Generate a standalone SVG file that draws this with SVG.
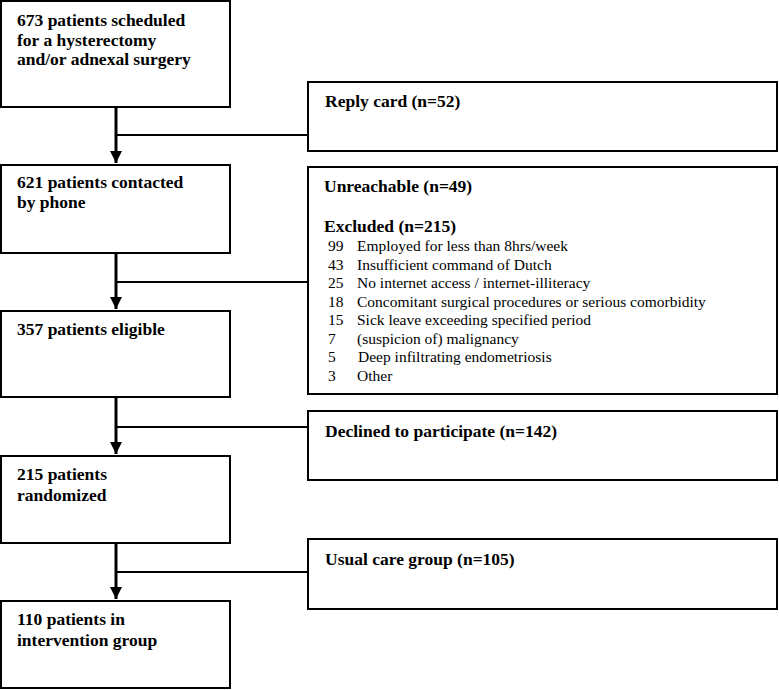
<svg xmlns="http://www.w3.org/2000/svg" width="779" height="690" viewBox="0 0 779 690">
<style>
.box{fill:#fff;stroke:#000;stroke-width:2}
.b{font-family:"Liberation Serif","Times New Roman",serif;font-weight:bold;font-size:17.5px;fill:#000}
.r{font-family:"Liberation Serif","Times New Roman",serif;font-size:15.5px;fill:#000}
.v{stroke:#000;stroke-width:3;fill:none}
.h{stroke:#000;stroke-width:2;fill:none}
</style>
<defs>
<marker id="ah" markerUnits="userSpaceOnUse" markerWidth="14" markerHeight="12" refX="12" refY="6" orient="auto">
<path d="M0,0 L12,6 L0,12 Z" fill="#000"/>
</marker>
</defs>
<rect width="779" height="690" fill="#fff"/>
<g id="connectors">
<line class="v" x1="116" y1="107" x2="116" y2="163" marker-end="url(#ah)"/>
<line class="h" x1="116" y1="135" x2="308" y2="135"/>
<line class="v" x1="116" y1="253" x2="116" y2="309" marker-end="url(#ah)"/>
<line class="h" x1="116" y1="282" x2="308" y2="282"/>
<line class="v" x1="116" y1="397" x2="116" y2="454" marker-end="url(#ah)"/>
<line class="h" x1="116" y1="427" x2="308" y2="427"/>
<line class="v" x1="116" y1="543" x2="116" y2="599" marker-end="url(#ah)"/>
<line class="h" x1="116" y1="572" x2="308" y2="572"/>
</g>
<g id="n673">
<rect class="box" x="1" y="1" width="229" height="106"/>
<text class="b" x="17" y="26">673 patients scheduled</text>
<text class="b" x="17" y="45.5">for a hysterectomy</text>
<text class="b" x="17" y="65">and/or adnexal surgery</text>
</g>
<g id="reply">
<rect class="box" x="308" y="82" width="469" height="69"/>
<text class="b" x="325" y="107">Reply card (n=52)</text>
</g>
<g id="n621">
<rect class="box" x="1" y="165" width="229" height="88"/>
<text class="b" x="17" y="188">621 patients contacted</text>
<text class="b" x="17" y="208">by phone</text>
</g>
<g id="excluded">
<rect class="box" x="308" y="167" width="469" height="227"/>
<text class="b" x="324" y="192">Unreachable (n=49)</text>
<text class="b" x="324" y="232">Excluded (n=215)</text>
<text class="r" x="328" y="251">99</text><text class="r" x="357" y="251">Employed for less than 8hrs/week</text>
<text class="r" x="328" y="269.5">43</text><text class="r" x="357" y="269.5">Insufficient command of Dutch</text>
<text class="r" x="328" y="288">25</text><text class="r" x="357" y="288">No internet access / internet-illiteracy</text>
<text class="r" x="328" y="306.5">18</text><text class="r" x="357" y="306.5">Concomitant surgical procedures or serious comorbidity</text>
<text class="r" x="328" y="325">15</text><text class="r" x="357" y="325">Sick leave exceeding specified period</text>
<text class="r" x="328" y="343.5">7</text><text class="r" x="357" y="343.5">(suspicion of) malignancy</text>
<text class="r" x="328" y="362">5</text><text class="r" x="358" y="362">Deep infiltrating endometriosis</text>
<text class="r" x="328" y="380.5">3</text><text class="r" x="357" y="380.5">Other</text>
</g>
<g id="n357">
<rect class="box" x="1" y="311" width="229" height="86"/>
<text class="b" x="17" y="335">357 patients eligible</text>
</g>
<g id="declined">
<rect class="box" x="308" y="411" width="469" height="69"/>
<text class="b" x="325" y="437">Declined to participate (n=142)</text>
</g>
<g id="n215">
<rect class="box" x="1" y="456" width="229" height="87"/>
<text class="b" x="17" y="480">215 patients</text>
<text class="b" x="17" y="501">randomized</text>
</g>
<g id="usual">
<rect class="box" x="308" y="539" width="469" height="70"/>
<text class="b" x="325" y="565">Usual care group (n=105)</text>
</g>
<g id="n110">
<rect class="box" x="1" y="601" width="229" height="87"/>
<text class="b" x="17" y="625">110 patients in</text>
<text class="b" x="17" y="646">intervention group</text>
</g>
</svg>
